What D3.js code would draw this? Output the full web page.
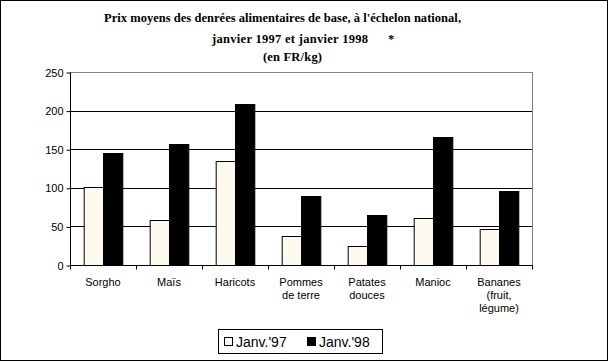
<!DOCTYPE html>
<html>
<head>
<meta charset="utf-8">
<script src="https://cdn.jsdelivr.net/npm/d3@7"></script>
<style>
  body { margin: 0; background: #fff; }
  svg { display: block; }
  .title { font-family: "Liberation Serif", "Times New Roman", serif; font-weight: bold; font-size: 12.5px; }
  .tick text, .xlab, .ylab { font-family: "Liberation Sans", Arial, sans-serif; font-size: 11px; fill: #000; }
  .legend text { font-family: "Liberation Sans", Arial, sans-serif; font-size: 14px; }
</style>
</head>
<body>
<div class="chart"></div>
<script>
const categories = ['Sorgho', 'Maïs', 'Haricots', 'Pommes\nde terre', 'Patates\ndouces', 'Manioc', 'Bananes\n(fruit,\nlégume)']
const series = ["Janv.'97", "Janv.'98"]
const values97 = [101, 58, 135, 37, 25, 61, 47]
const values98 = [145, 157, 208, 90, 65, 166, 96]
const yTicks = [0, 50, 100, 150, 200, 250]
const colors = ['#fffaf0', '#000000']

var width = 609, height = 362
var plot = {left: 70, right: 532, top: 72, bottom: 265}

var svg = d3.select(".chart").append("svg")
    .attr("width", width)
    .attr("height", height)

// outer frame
svg.append("rect")
  .attr("x", 0.5).attr("y", 0.5)
  .attr("width", width - 2).attr("height", height - 2)
  .attr("fill", "none").attr("stroke", "#000")

// title
var title = svg.append("g").attr("class", "title")
title.append("text").attr("x", 104).attr("y", 22)
  .attr("textLength", 357).attr("lengthAdjust", "spacing")
  .text("Prix moyens des denrées alimentaires de base, à l'échelon national,")
title.append("text").attr("x", 212).attr("y", 43)
  .attr("textLength", 156).attr("lengthAdjust", "spacing")
  .text("janvier 1997 et janvier 1998")
title.append("text").attr("x", 388).attr("y", 43).text("*")
title.append("text").attr("x", 263).attr("y", 61)
  .attr("textLength", 59).attr("lengthAdjust", "spacing")
  .text("(en FR/kg)")

var x0 = d3.scaleBand()
    .domain(categories)
    .range([plot.left, plot.right])
    .paddingInner(0.415)
    .paddingOuter(0.2075)
var x1 = d3.scaleBand()
    .domain(series)
    .range([0, x0.bandwidth()])
var y = d3.scaleLinear()
    .domain([0, 250])
    .range([plot.bottom, plot.top])

// gridlines
svg.append("g")
  .selectAll("line")
  .data(yTicks.slice(1, -1))
  .enter().append("line")
  .attr("x1", plot.left).attr("x2", plot.right)
  .attr("y1", d => Math.round(y(d)) + 0.5).attr("y2", d => Math.round(y(d)) + 0.5)
  .attr("stroke", "#000")

// plot border (top & right grey)
svg.append("path")
  .attr("d", "M" + plot.left + "," + (y(250) + 0.5) + "H" + (plot.right + 0.5) + "V" + plot.bottom)
  .attr("fill", "none").attr("stroke", "#808080")

var data = categories.map((c, i) => ({cat: c, vals: [values97[i], values98[i]]}))

var groups = svg.append("g").selectAll("g")
  .data(data)
  .enter().append("g")
  .attr("transform", d => "translate(" + x0(d.cat) + ",0)")

groups.selectAll("rect")
  .data(d => d.vals.map((v, j) => ({s: series[j], v: v, j: j})))
  .enter().append("rect")
  .attr("x", d => x1(d.s) + 0.5)
  .attr("width", x1.bandwidth())
  .attr("y", d => Math.round(y(d.v)) + 0.5)
  .attr("height", d => Math.round(y(0)) - Math.round(y(d.v)))
  .attr("fill", d => colors[d.j])
  .attr("stroke", "#000")

// y axis
var yAxis = svg.append("g")
  .attr("transform", "translate(" + (plot.left + 0.5) + ",0.5)")
  .call(d3.axisLeft(y).tickValues(yTicks).tickSize(4).tickPadding(3))
yAxis.select(".domain").attr("d", "M-0," + Math.round(y(250)) + "V" + Math.round(y(0)))
yAxis.selectAll(".tick line").attr("stroke", "#000")

// x axis
var tickPos = categories.map(c => x0(c) - x0.step() * x0.paddingInner() / 2).concat([plot.right])
var xAxis = svg.append("g").attr("transform", "translate(0," + (Math.round(y(0)) + 0.5) + ")")
xAxis.append("line").attr("x1", plot.left).attr("x2", plot.right + 1).attr("stroke", "#000")
xAxis.selectAll(".xt")
  .data(tickPos)
  .enter().append("line")
  .attr("x1", d => Math.round(d) + 0.5).attr("x2", d => Math.round(d) + 0.5)
  .attr("y1", 0).attr("y2", 4)
  .attr("stroke", "#000")
xAxis.selectAll(".xlab")
  .data(categories)
  .enter().append("text")
  .attr("class", "xlab")
  .attr("text-anchor", "middle")
  .attr("x", d => x0(d) + x0.bandwidth() / 2)
  .attr("y", 20)
  .each(function(d) {
    d3.select(this).selectAll("tspan")
      .data(d.split("\n"))
      .enter().append("tspan")
      .attr("x", x0(d) + x0.bandwidth() / 2)
      .attr("dy", (t, i) => i ? 13 : 0)
      .text(t => t)
  })

// legend
var legend = svg.append("g").attr("class", "legend")
legend.append("rect")
  .attr("x", 218.5).attr("y", 329.5).attr("width", 164).attr("height", 24)
  .attr("fill", "#fff").attr("stroke", "#000")
var items = legend.selectAll(".item")
  .data(series)
  .enter().append("g")
  .attr("transform", (d, i) => "translate(" + (224 + i * 83) + ",0)")
items.append("rect")
  .attr("x", 0.5).attr("y", 337.5).attr("width", 8).attr("height", 8)
  .attr("fill", (d, i) => colors[i]).attr("stroke", "#000")
items.append("text")
  .attr("x", 12).attr("y", 347)
  .text(d => d)
</script>
</body>
</html>
